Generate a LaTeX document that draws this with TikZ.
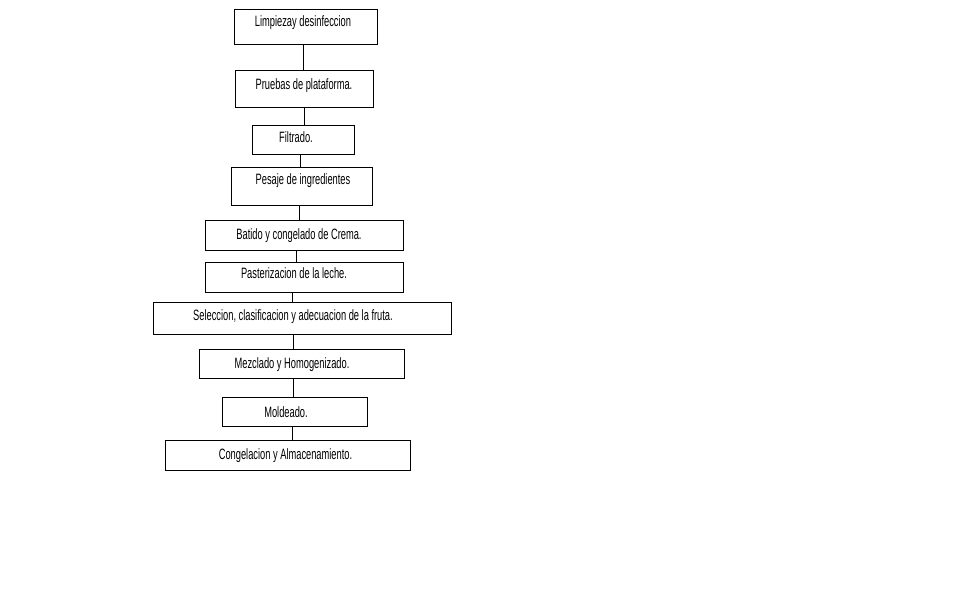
\documentclass[tikz,border=0pt]{standalone}
\usepackage{fontspec}
\setmainfont{Liberation Sans}
\newcommand\nrw[1]{\scalebox{0.62}[1]{#1}}
\begin{document}
\begin{tikzpicture}[x=1pt,y=-1pt,
  box/.style={draw=black, line width=1pt, rectangle, inner sep=0pt, anchor=north west},
  lbl/.style={anchor=base, inner sep=0pt, font=\fontsize{15}{18}\selectfont},
  conn/.style={draw=black, line width=1pt}]
\fill[white] (0,0) rectangle (962,610);
\useasboundingbox (0,0) rectangle (962,610);
% boxes
\node[box, minimum width=143, minimum height=35] (b1) at (234,9) {};
\node[box, minimum width=138, minimum height=37] (b2) at (235,70) {};
\node[box, minimum width=102, minimum height=29] (b3) at (252,125) {};
\node[box, minimum width=141, minimum height=38] (b4) at (231,167) {};
\node[box, minimum width=198, minimum height=30] (b5) at (205,220) {};
\node[box, minimum width=198, minimum height=30] (b6) at (205,262) {};
\node[box, minimum width=298, minimum height=32] (b7) at (153,302) {};
\node[box, minimum width=205, minimum height=29] (b8) at (199,349) {};
\node[box, minimum width=145, minimum height=29] (b9) at (222,397) {};
\node[box, minimum width=245, minimum height=30] (b10) at (165,440) {};
% labels
\node[lbl] (t1) at (303,27) {\nrw{Limpiezay desinfeccion}};
\node[lbl] (t2) at (304,90) {\nrw{Pruebas de plataforma.}};
\node[lbl] (t3) at (296,142.5) {\nrw{Filtrado.}};
\node[lbl] (t4) at (303,184) {\nrw{Pesaje de ingredientes}};
\node[lbl] (t5) at (299,239) {\nrw{Batido y congelado de Crema.}};
\node[lbl] (t6) at (294,278) {\nrw{Pasterizacion de la leche.}};
\node[lbl] (t7) at (293,320) {\nrw{Seleccion, clasificacion y adecuacion de la fruta.}};
\node[lbl] (t8) at (292,368) {\nrw{Mezclado y Homogenizado.}};
\node[lbl] (t9) at (286,417.5) {\nrw{Moldeado.}};
\node[lbl] (t10) at (285.5,459) {\nrw{Congelacion y Almacenamiento.}};
% connector x positions
\coordinate (c1) at (303,0);
\coordinate (c2) at (304,0);
\coordinate (c3) at (300,0);
\coordinate (c4) at (299,0);
\coordinate (c5) at (296,0);
\coordinate (c6) at (292,0);
\coordinate (c7) at (293,0);
\coordinate (c8) at (293,0);
\coordinate (c9) at (292,0);
\draw[conn] (b1.south -| c1) -- (b2.north -| c1);
\draw[conn] (b2.south -| c2) -- (b3.north -| c2);
\draw[conn] (b3.south -| c3) -- (b4.north -| c3);
\draw[conn] (b4.south -| c4) -- (b5.north -| c4);
\draw[conn] (b5.south -| c5) -- (b6.north -| c5);
\draw[conn] (b6.south -| c6) -- (b7.north -| c6);
\draw[conn] (b7.south -| c7) -- (b8.north -| c7);
\draw[conn] (b8.south -| c8) -- (b9.north -| c8);
\draw[conn] (b9.south -| c9) -- (b10.north -| c9);
\end{tikzpicture}
\end{document}
